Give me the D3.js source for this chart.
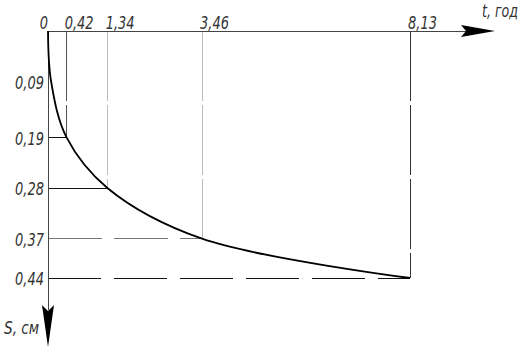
<!DOCTYPE html>
<html>
<head>
<meta charset="utf-8">
<script src="https://cdn.jsdelivr.net/npm/d3@7"></script>
<style>
  body { margin: 0; background: #fff; }
  text { font-family: "DejaVu Sans Condensed", "DejaVu Sans", sans-serif; font-style: italic; fill: #333; }
</style>
</head>
<body>
<div id="chart"></div>
<script>
let w = 529;
let h = 354;

// data
let tValues = [0, 0.07, 0.42, 1.34, 3.46, 8.13];   // time, years
let sValues = [0, 0.09, 0.19, 0.28, 0.37, 0.44];   // settlement, cm
let xTickLabels = ["0", "0,42", "1,34", "3,46", "8,13"];
let xTickValues = [0, 0.42, 1.34, 3.46, 8.13];
let yTickLabels = ["0,09", "0,19", "0,28", "0,37", "0,44"];
let yTickValues = [0.09, 0.19, 0.28, 0.37, 0.44];

let viz = d3.select("#chart")
  .append("svg")
    .attr("width", w)
    .attr("height", h);

let xScale = d3.scaleLinear().domain([0, 8.13]).range([48, 410]);
let yScale = d3.scaleLinear().domain([0, 0.44]).range([31, 278]);

let points = tValues.map((t, i) => ({t: t, s: sValues[i]}));

// guide lines (vertical from axis down to curve)
let guides = [
  {t: 0.42, s: 0.19, vColor: "#555", hColor: "#111", hDash: null},
  {t: 1.34, s: 0.28, vColor: "#bbb", hColor: "#111", hDash: null},
  {t: 3.46, s: 0.37, vColor: "#bbb", hColor: "#777", hDash: "54,12"},
  {t: 8.13, s: 0.44, vColor: "#333", hColor: "#111", hDash: "53,13"}
];

viz.selectAll(".vguide").data(guides).enter()
  .append("line")
    .attr("class", "vguide")
    .attr("x1", d => xScale(d.t))
    .attr("x2", d => xScale(d.t))
    .attr("y1", yScale(0))
    .attr("y2", d => yScale(d.s))
    .attr("stroke", d => d.vColor)
    .attr("stroke-width", 1)
    .attr("stroke-dasharray", "70,4")
    .attr("shape-rendering", "crispEdges");

viz.selectAll(".hguide").data(guides).enter()
  .append("line")
    .attr("class", "hguide")
    .attr("x1", xScale(0))
    .attr("x2", d => xScale(d.t))
    .attr("y1", d => yScale(d.s))
    .attr("y2", d => yScale(d.s))
    .attr("stroke", d => d.hColor)
    .attr("stroke-width", 1)
    .attr("stroke-dasharray", d => d.hDash)
    .attr("shape-rendering", "crispEdges");

// axes
let x0 = xScale(0), y0 = yScale(0);
viz.append("line")
  .attr("x1", x0).attr("x2", 466)
  .attr("y1", y0).attr("y2", y0)
  .attr("stroke", "#444").attr("stroke-width", 1)
  .attr("shape-rendering", "crispEdges");
viz.append("line")
  .attr("x1", x0).attr("x2", x0)
  .attr("y1", y0).attr("y2", 310)
  .attr("stroke", "#444").attr("stroke-width", 1)
  .attr("shape-rendering", "crispEdges");

// arrowheads
viz.append("path")
  .attr("d", "M495," + y0 + " L461," + (y0 - 6) + " L466," + y0 + " L461," + (y0 + 6) + " Z")
  .attr("fill", "#000");
viz.append("path")
  .attr("d", "M" + x0 + ",347 L" + (x0 - 6) + ",305 L" + x0 + ",311 L" + (x0 + 6) + ",305 Z")
  .attr("fill", "#000");

// curve
let line = d3.line()
  .x(d => xScale(d.t))
  .y(d => yScale(d.s))
  .curve(d3.curveCatmullRom.alpha(0.5));

viz.append("path")
  .datum(points)
  .attr("d", line)
  .attr("fill", "none")
  .attr("stroke", "#000")
  .attr("stroke-width", 1.8);

// squeeze text horizontally to imitate the narrow drawing font
function narrow(sel, k) {
  sel.each(function() {
    let len = this.getComputedTextLength();
    d3.select(this)
      .attr("textLength", len * k)
      .attr("lengthAdjust", "spacingAndGlyphs");
  });
}

// tick labels
viz.selectAll(".xlab").data(xTickValues).enter()
  .append("text")
    .attr("class", "xlab")
    .attr("x", d => d === 0 ? xScale(d) : xScale(d) - 2)
    .attr("y", 29)
    .attr("text-anchor", d => d === 0 ? "end" : "start")
    .attr("font-size", "18.5px")
    .text((d, i) => xTickLabels[i])
    .call(narrow, 0.78);

viz.selectAll(".ylab").data(yTickValues).enter()
  .append("text")
    .attr("class", "ylab")
    .attr("x", 44)
    .attr("y", d => yScale(d))
    .attr("dy", "0.38em")
    .attr("text-anchor", "end")
    .attr("font-size", "18.5px")
    .text((d, i) => yTickLabels[i])
    .call(narrow, 0.78);

// axis titles
viz.append("text")
  .attr("x", 482).attr("y", 17)
  .attr("font-size", "18px")
  .text("t,  год")
  .call(narrow, 0.78);
viz.append("text")
  .attr("x", 4).attr("y", 334)
  .attr("font-size", "18.5px")
  .text("S,  см")
  .call(narrow, 0.82);
</script>
</body>
</html>
